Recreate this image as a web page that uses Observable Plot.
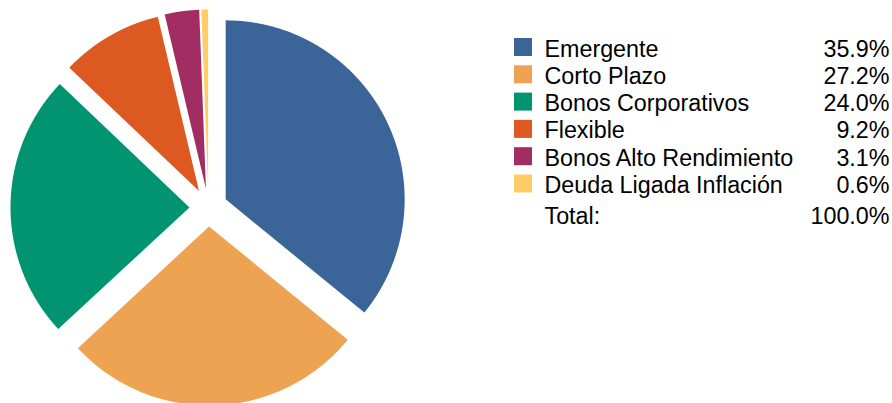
<!DOCTYPE html>
<html><head><meta charset="utf-8">
<script src="https://cdn.jsdelivr.net/npm/d3@7"></script>
<script src="https://cdn.jsdelivr.net/npm/@observablehq/plot@0.6"></script>
<style>body{margin:0;background:#fff}</style>
</head><body><div id="chart"></div>
<script>
const categories = ["Emergente","Corto Plazo","Bonos Corporativos","Flexible","Bonos Alto Rendimiento","Deuda Ligada Inflación"];
const values = [35.9, 27.2, 24.0, 9.2, 3.1, 0.6];
const valueLabels = ["35.9%","27.2%","24.0%","9.2%","3.1%","0.6%"];
const totalLabel = "Total:";
const totalValue = "100.0%";
const colors = ["#3b6598","#eea353","#009470","#dc5a21","#a12d62","#ffcc66"];

const W = 892, H = 403;
const R = 179;          // pie radius in px
const cx = 208, cy = 207; // pie centre in px
const explode = 19 / R;   // explosion offset in radius units
const toX = px => (px - cx) / R;
const toY = py => (cy - py) / R;

const slices = d3.pie().sort(null).value(d => d.value)(
  categories.map((c, i) => ({category: c, value: values[i]}))
);
const piePts = [];
for (const a of slices) {
  const mid = (a.startAngle + a.endAngle) / 2;
  const ox = explode * Math.sin(mid), oy = explode * Math.cos(mid);
  const cat = a.data.category;
  piePts.push({category: cat, x: ox, y: oy});
  const n = Math.max(4, Math.ceil((a.endAngle - a.startAngle) / 0.004));
  for (let k = 0; k <= n; k++) {
    const t = a.startAngle + (a.endAngle - a.startAngle) * k / n;
    piePts.push({category: cat, x: ox + Math.sin(t), y: oy + Math.cos(t)});
  }
  piePts.push({category: cat, x: ox, y: oy});
}

// legend layout
const sqX = 514, sqSize = 18, rowTop = 38, rowStep = 27.3, textX = 544, valX = 889, fs = 23.3;
const legendRows = categories.map((c, i) => ({
  category: c, label: c, value: valueLabels[i],
  x1: toX(sqX), x2: toX(sqX + sqSize),
  y1: toY(rowTop + i * rowStep), y2: toY(rowTop + i * rowStep + sqSize),
  yBase: toY(rowTop + i * rowStep + sqSize)
}));
const totalRow = [{label: totalLabel, value: totalValue, yBase: toY(rowTop + 5 * rowStep + sqSize + 30.5)}];

const chart = Plot.plot({
  width: W, height: H,
  margin: 0,
  x: {domain: [toX(0), toX(W)], axis: null},
  y: {domain: [toY(H), toY(0)], axis: null},
  color: {domain: categories, range: colors},
  style: {fontFamily: "'Liberation Sans', Arial, sans-serif", background: "#fff"},
  marks: [
    Plot.line(piePts, {x: "x", y: "y", z: "category", fill: "category", stroke: null, curve: "linear"}),
    Plot.rect(legendRows, {x1: "x1", x2: "x2", y1: "y1", y2: "y2", fill: "category"}),
    Plot.text(legendRows, {x: () => toX(textX), y: "yBase", text: "label", textAnchor: "start", lineAnchor: "bottom", fontSize: fs, fill: "#000"}),
    Plot.text(legendRows, {x: () => toX(valX), y: "yBase", text: "value", textAnchor: "end", lineAnchor: "bottom", fontSize: fs, fill: "#000"}),
    Plot.text(totalRow, {x: () => toX(textX), y: "yBase", text: "label", textAnchor: "start", lineAnchor: "bottom", fontSize: fs, fill: "#000"}),
    Plot.text(totalRow, {x: () => toX(valX), y: "yBase", text: "value", textAnchor: "end", lineAnchor: "bottom", fontSize: fs, fill: "#000"})
  ]
});
document.getElementById("chart").appendChild(chart);
</script>
</body></html>
